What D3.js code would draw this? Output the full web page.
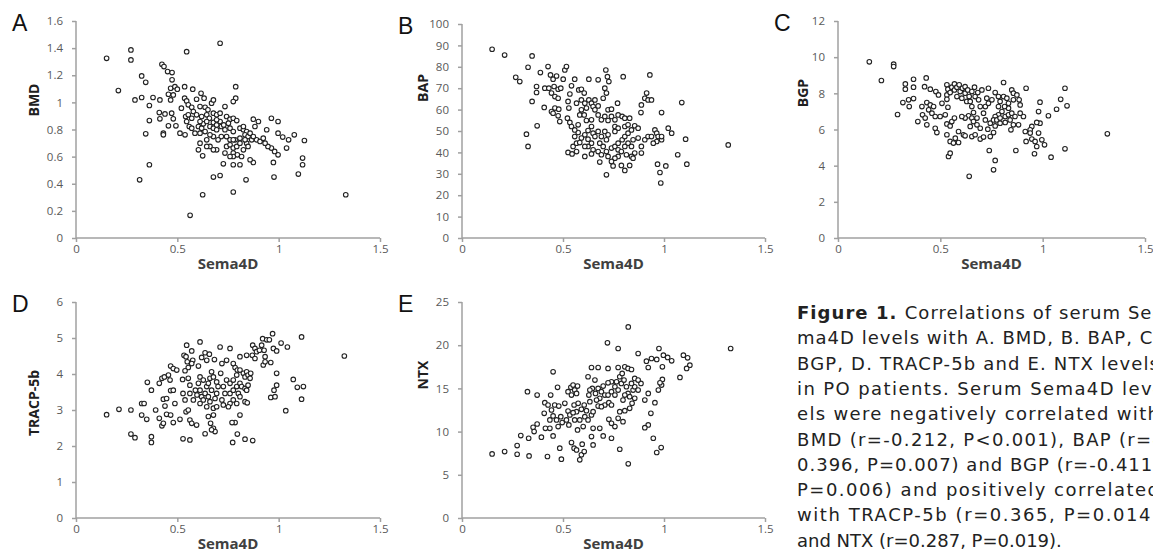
<!DOCTYPE html>
<html>
<head>
<meta charset="utf-8">
<script src="https://cdn.jsdelivr.net/npm/d3@7"></script>
<style>
  body { margin: 0; background: #fff; }
  svg { display: block; }
  .tick text { fill: #595959; font-family: "Open Sans", sans-serif; font-size: 11.5px; }
  .axis path, .axis line { stroke: #a0a0a0; stroke-width: 1.5; }
</style>
</head>
<body>
<svg id="fig" width="1153" height="552"></svg>
<script>

// x values on every panel: serum Sema4D
var sema4dTicks = [0, 0.5, 1, 1.5];

// A. BMD
var bmdPts = [[0.151,1.325],[0.271,1.387],[0.271,1.313],[0.209,1.087],[0.291,1.018],[0.324,1.195],[0.344,1.148],[0.324,1.036],[0.38,1.036],[0.362,0.977],[0.362,0.866],[0.344,0.768],[0.314,0.429],[0.362,0.54],[0.424,1.281],[0.434,1.264],[0.452,1.227],[0.474,1.22],[0.474,1.166],[0.467,1.104],[0.488,1.116],[0.5,1.097],[0.536,1.116],[0.576,1.097],[0.456,1.06],[0.48,1.055],[0.414,1.018],[0.467,1.018],[0.411,0.925],[0.439,0.915],[0.414,0.879],[0.472,0.92],[0.456,0.827],[0.48,0.879],[0.493,0.827],[0.431,0.773],[0.431,0.761],[0.513,0.773],[0.538,0.761],[0.52,0.957],[0.536,1.031],[0.546,1.011],[0.554,0.982],[0.541,0.896],[0.554,0.908],[0.571,0.964],[0.571,0.883],[0.559,0.822],[0.571,0.81],[0.595,1.023],[0.612,0.969],[0.617,1.067],[0.632,1.031],[0.637,0.964],[0.62,0.896],[0.645,0.908],[0.669,0.994],[0.678,1.018],[0.658,0.883],[0.678,0.92],[0.694,0.908],[0.711,0.92],[0.735,0.969],[0.743,0.896],[0.76,0.876],[0.776,0.883],[0.793,0.866],[0.711,1.436],[0.546,1.374],[0.788,1.116],[0.788,1.031],[0.776,1.006],[0.604,0.822],[0.62,0.81],[0.637,0.785],[0.661,0.822],[0.678,0.81],[0.694,0.798],[0.717,0.822],[0.735,0.798],[0.76,0.81],[0.776,0.785],[0.809,0.81],[0.826,0.798],[0.842,0.785],[0.834,0.761],[0.849,0.748],[0.867,0.724],[0.891,0.724],[0.908,0.712],[0.924,0.736],[0.941,0.798],[0.883,0.822],[0.875,0.876],[0.9,0.859],[0.964,0.883],[0.997,0.859],[0.997,0.773],[1.02,0.744],[1.049,0.724],[1.077,0.761],[1.127,0.719],[1.039,0.663],[0.997,0.613],[0.98,0.638],[0.964,0.663],[0.947,0.675],[1.118,0.589],[1.118,0.54],[1.097,0.471],[0.977,0.449],[0.974,0.557],[0.875,0.557],[0.859,0.577],[0.809,0.54],[0.776,0.54],[0.727,0.547],[0.711,0.461],[0.678,0.449],[0.839,0.429],[0.776,0.339],[0.625,0.319],[0.563,0.167],[1.331,0.319],[0.604,0.65],[0.625,0.606],[0.612,0.699],[0.645,0.724],[0.661,0.675],[0.694,0.65],[0.678,0.65],[0.645,0.675],[0.743,0.675],[0.76,0.687],[0.776,0.663],[0.793,0.675],[0.776,0.626],[0.796,0.613],[0.817,0.601],[0.776,0.601],[0.76,0.601],[0.735,0.626],[0.826,0.65],[0.842,0.699],[0.809,0.699],[0.809,0.736],[0.834,0.724],[0.785,0.724],[0.76,0.724],[0.743,0.748],[0.717,0.748],[0.701,0.724],[0.678,0.748],[0.661,0.761],[0.612,0.773],[0.587,0.773],[0.628,0.842],[0.678,0.852],[0.694,0.834],[0.711,0.859],[0.729,0.834],[0.752,0.847],[0.826,0.822],[0.859,0.773],[0.875,0.748],[0.546,0.859],[0.579,0.932],[0.595,0.908],[0.651,0.945],[0.612,0.859],[0.645,0.859],[0.694,0.871],[0.776,0.724],[0.849,0.675],[0.933,0.699]];

// B. BAP
var bapPts = [[0.149,88.2],[0.211,85.5],[0.347,85.1],[0.266,75.1],[0.286,73.1],[0.327,79.8],[0.347,63.8],[0.319,48.5],[0.327,42.8],[0.372,52.4],[0.369,70.8],[0.369,68.0],[0.388,77.3],[0.407,61.0],[0.426,80.1],[0.41,70.0],[0.43,70.0],[0.438,76.2],[0.451,74.2],[0.468,75.7],[0.456,70.8],[0.476,69.5],[0.443,67.7],[0.46,66.1],[0.476,65.3],[0.501,74.2],[0.489,70.0],[0.443,59.1],[0.46,60.7],[0.451,58.3],[0.476,57.1],[0.484,54.4],[0.479,60.2],[0.509,78.5],[0.517,80.1],[0.558,74.2],[0.542,71.1],[0.534,67.3],[0.525,63.8],[0.529,60.7],[0.522,56.0],[0.534,54.0],[0.542,52.1],[0.525,40.0],[0.545,39.3],[0.567,40.4],[0.55,42.8],[0.567,44.3],[0.558,47.4],[0.575,49.3],[0.558,50.5],[0.575,52.9],[0.567,63.0],[0.578,69.2],[0.591,69.5],[0.605,67.7],[0.591,64.5],[0.608,63.0],[0.616,60.7],[0.591,59.9],[0.583,57.5],[0.605,57.5],[0.628,64.5],[0.641,63.0],[0.658,64.5],[0.649,61.4],[0.674,73.9],[0.628,74.2],[0.712,78.5],[0.72,75.4],[0.727,73.1],[0.798,75.4],[0.93,76.2],[1.088,63.3],[0.988,58.6],[0.707,70.0],[0.715,67.7],[0.699,65.3],[0.674,61.7],[0.658,59.9],[0.674,57.5],[0.69,55.2],[0.707,56.8],[0.723,59.9],[0.74,60.2],[0.723,54.9],[0.74,56.8],[0.757,55.2],[0.77,63.0],[0.773,57.5],[0.793,56.8],[0.806,56.0],[0.83,56.0],[0.757,52.1],[0.773,51.3],[0.757,49.8],[0.641,52.1],[0.624,50.2],[0.649,49.0],[0.674,49.8],[0.608,48.2],[0.591,46.7],[0.624,46.2],[0.658,47.4],[0.69,47.4],[0.707,49.8],[0.723,48.2],[0.641,44.3],[0.624,42.8],[0.649,41.2],[0.682,44.3],[0.699,42.8],[0.715,45.9],[0.674,40.4],[0.641,39.3],[0.69,38.9],[0.715,40.4],[0.74,42.0],[0.757,42.8],[0.773,41.2],[0.773,44.3],[0.793,45.9],[0.806,47.4],[0.822,49.0],[0.839,50.5],[0.855,52.4],[0.872,51.3],[0.872,46.7],[0.847,45.9],[0.822,44.3],[0.806,42.8],[0.839,42.8],[0.855,39.7],[0.839,38.1],[0.814,38.9],[0.789,40.4],[0.773,38.1],[0.757,37.3],[0.74,35.8],[0.723,38.1],[0.682,35.5],[0.748,33.7],[0.715,29.5],[0.789,33.9],[0.806,31.6],[0.83,33.9],[0.847,37.3],[0.888,39.7],[0.888,42.8],[0.905,45.9],[0.921,47.4],[0.905,65.3],[0.914,67.7],[0.921,64.5],[0.888,62.2],[0.886,58.6],[0.938,64.5],[0.938,47.4],[0.955,50.5],[0.964,49.0],[0.971,47.4],[0.988,45.9],[0.964,45.1],[0.947,44.3],[0.988,47.4],[1.021,51.3],[1.038,49.0],[1.107,46.2],[1.068,38.9],[1.113,34.5],[0.968,34.5],[0.98,30.6],[1.009,33.7],[0.984,25.7],[1.318,43.5],[0.616,54.9],[0.641,55.2],[0.806,52.1],[0.822,52.9],[0.608,42.8],[0.608,38.1],[0.583,44.6]];

// C. BGP
var bgpPts = [[0.153,9.74],[0.272,9.61],[0.272,9.48],[0.212,8.71],[0.291,6.83],[0.329,8.52],[0.329,8.23],[0.317,7.49],[0.345,7.64],[0.348,7.27],[0.369,8.78],[0.369,8.34],[0.369,7.71],[0.39,6.44],[0.41,7.27],[0.413,6.81],[0.423,8.37],[0.431,8.85],[0.434,7.49],[0.451,8.23],[0.443,7.09],[0.426,6.63],[0.434,6.26],[0.451,7.36],[0.459,6.90],[0.467,7.27],[0.475,6.72],[0.478,8.10],[0.491,7.91],[0.499,6.72],[0.475,6.07],[0.483,5.83],[0.508,7.45],[0.524,6.81],[0.532,6.31],[0.532,5.71],[0.54,4.51],[0.548,4.69],[0.548,5.34],[0.564,5.25],[0.548,6.20],[0.556,6.44],[0.569,6.63],[0.537,7.23],[0.532,8.47],[0.537,8.23],[0.532,7.91],[0.532,7.67],[0.548,8.04],[0.556,8.34],[0.569,8.52],[0.569,8.19],[0.581,7.82],[0.581,8.34],[0.592,8.47],[0.597,8.10],[0.605,7.73],[0.608,8.28],[0.621,8.37],[0.621,8.01],[0.634,8.19],[0.641,7.82],[0.629,7.55],[0.646,7.55],[0.654,8.10],[0.667,8.34],[0.654,7.27],[0.67,7.82],[0.683,8.04],[0.687,7.64],[0.695,7.27],[0.662,6.94],[0.638,6.76],[0.621,6.63],[0.605,6.72],[0.613,5.71],[0.621,5.65],[0.589,5.89],[0.573,5.52],[0.589,5.28],[0.654,6.63],[0.662,6.44],[0.679,6.63],[0.679,6.26],[0.695,6.07],[0.646,6.17],[0.654,5.61],[0.67,5.71],[0.695,5.47],[0.711,5.58],[0.732,6.02],[0.744,6.35],[0.72,6.53],[0.711,6.90],[0.72,7.27],[0.735,7.45],[0.727,7.73],[0.752,7.64],[0.735,8.28],[0.703,8.19],[0.641,3.41],[0.739,4.84],[0.768,4.29],[0.76,3.77],[0.869,4.84],[0.96,4.66],[1.041,4.47],[1.109,4.93],[0.809,8.60],[0.919,8.28],[1.109,8.28],[1.119,7.31],[1.088,7.67],[1.068,7.12],[0.987,7.51],[1.028,6.76],[0.98,6.99],[0.987,6.35],[0.971,6.39],[0.947,6.17],[0.939,5.98],[0.915,5.89],[0.906,6.72],[0.939,5.80],[0.919,5.34],[0.947,5.47],[0.963,5.34],[0.971,5.06],[0.98,5.80],[0.996,5.43],[1.009,5.15],[1.316,5.76],[0.768,8.04],[0.784,7.82],[0.792,7.55],[0.809,7.82],[0.825,7.73],[0.833,7.45],[0.849,8.19],[0.857,8.01],[0.874,7.91],[0.885,7.64],[0.89,7.36],[0.857,7.64],[0.833,7.18],[0.814,7.27],[0.784,7.27],[0.801,6.99],[0.784,6.81],[0.768,6.72],[0.76,6.53],[0.776,6.53],[0.792,6.63],[0.817,6.72],[0.833,6.81],[0.849,6.90],[0.865,6.72],[0.841,6.53],[0.817,6.39],[0.857,6.26],[0.845,5.98],[0.792,6.35],[0.768,6.20],[0.76,5.83],[0.744,5.61],[0.882,6.26],[0.89,6.90]];

// D. TRACP-5b
var tracpPts = [[0.151,2.87],[0.212,3.02],[0.271,3.00],[0.271,2.33],[0.291,2.23],[0.324,3.18],[0.336,3.18],[0.324,2.86],[0.349,2.74],[0.352,3.77],[0.372,3.55],[0.372,2.26],[0.372,2.10],[0.393,3.00],[0.411,3.74],[0.424,3.88],[0.411,2.77],[0.424,2.56],[0.431,2.63],[0.436,3.92],[0.431,3.30],[0.439,3.11],[0.447,2.88],[0.456,3.97],[0.464,3.83],[0.467,4.22],[0.48,4.15],[0.497,4.11],[0.467,3.54],[0.48,3.55],[0.447,3.32],[0.467,2.86],[0.48,2.65],[0.488,3.18],[0.513,2.74],[0.526,3.85],[0.533,4.52],[0.546,4.80],[0.543,4.48],[0.549,4.34],[0.554,4.18],[0.538,4.09],[0.528,3.46],[0.538,3.28],[0.543,2.95],[0.528,2.20],[0.562,2.17],[0.554,3.88],[0.562,3.69],[0.562,3.46],[0.571,4.64],[0.576,4.38],[0.571,4.29],[0.562,2.72],[0.571,2.63],[0.554,3.00],[0.579,3.28],[0.589,3.55],[0.597,3.42],[0.595,2.58],[0.604,4.22],[0.62,4.46],[0.637,4.59],[0.658,4.55],[0.645,4.38],[0.612,4.89],[0.683,4.40],[0.612,3.55],[0.62,3.37],[0.628,3.28],[0.612,3.18],[0.637,3.46],[0.645,3.65],[0.653,3.74],[0.661,3.88],[0.678,3.92],[0.669,3.55],[0.653,3.37],[0.661,3.23],[0.645,3.09],[0.678,3.05],[0.686,3.32],[0.694,3.46],[0.701,3.65],[0.694,3.78],[0.714,4.02],[0.669,4.06],[0.72,4.29],[0.743,4.38],[0.76,4.71],[0.711,4.75],[0.727,3.65],[0.735,3.46],[0.72,3.28],[0.727,3.14],[0.694,3.09],[0.678,2.86],[0.653,2.82],[0.664,2.63],[0.678,2.49],[0.686,2.40],[0.669,2.45],[0.637,2.34],[0.743,3.83],[0.76,3.74],[0.776,3.83],[0.793,3.97],[0.785,4.18],[0.796,4.11],[0.776,4.29],[0.809,4.48],[0.809,4.11],[0.826,4.02],[0.842,4.06],[0.834,3.92],[0.849,3.97],[0.859,3.88],[0.862,4.02],[0.842,4.52],[0.87,4.52],[0.76,3.46],[0.776,3.55],[0.793,3.65],[0.809,3.74],[0.817,3.65],[0.834,3.60],[0.849,3.69],[0.801,3.46],[0.776,3.28],[0.76,3.18],[0.752,3.09],[0.809,3.37],[0.793,3.18],[0.842,3.55],[0.834,3.23],[0.845,3.20],[0.809,2.86],[0.785,2.65],[0.77,2.65],[0.773,2.10],[0.796,2.33],[0.834,2.19],[0.872,2.15],[0.872,4.80],[0.883,4.71],[0.891,4.62],[0.883,4.43],[0.905,4.66],[0.916,4.80],[0.928,4.66],[0.933,4.48],[0.921,4.98],[0.941,4.95],[0.954,4.95],[0.97,5.12],[0.974,4.71],[0.99,4.64],[1.012,4.86],[1.043,4.75],[1.113,5.03],[0.924,4.25],[0.933,4.34],[0.961,4.32],[0.961,3.35],[0.977,3.55],[0.99,4.02],[0.99,3.69],[0.982,3.37],[1.072,3.85],[1.092,3.63],[1.122,3.65],[1.113,3.30],[1.035,2.98],[1.324,4.50],[0.612,3.92],[0.628,3.83],[0.604,3.74]];

// E. NTX
var ntxPts = [[0.149,7.42],[0.211,7.69],[0.273,8.38],[0.273,7.38],[0.332,7.19],[0.291,9.54],[0.33,9.23],[0.324,14.62],[0.352,10.5],[0.357,10.0],[0.372,10.88],[0.372,14.23],[0.393,9.35],[0.41,13.35],[0.413,10.38],[0.423,7.12],[0.407,12.12],[0.426,13.08],[0.435,11.35],[0.439,14.23],[0.443,12.5],[0.435,10.38],[0.451,9.5],[0.451,16.92],[0.451,11.81],[0.459,13.08],[0.468,11.35],[0.473,15.12],[0.476,10.58],[0.479,12.96],[0.484,8.08],[0.492,6.81],[0.489,11.73],[0.496,11.04],[0.509,13.27],[0.517,11.35],[0.525,12.38],[0.534,11.92],[0.529,10.77],[0.542,8.73],[0.555,8.08],[0.567,7.88],[0.525,14.62],[0.539,15.12],[0.542,14.23],[0.55,15.38],[0.558,14.81],[0.572,15.27],[0.567,14.42],[0.555,13.08],[0.567,12.31],[0.55,12.19],[0.558,11.35],[0.572,10.19],[0.583,6.73],[0.591,7.31],[0.605,7.69],[0.595,8.54],[0.575,13.27],[0.591,12.58],[0.605,13.08],[0.616,12.42],[0.608,11.73],[0.624,11.35],[0.641,11.92],[0.649,12.31],[0.633,13.46],[0.628,14.23],[0.624,16.35],[0.641,17.42],[0.674,17.42],[0.72,20.27],[0.773,19.62],[0.823,22.12],[0.773,17.42],[0.723,17.31],[0.658,15.96],[0.645,15.0],[0.633,14.81],[0.661,14.42],[0.674,15.0],[0.69,14.62],[0.699,15.27],[0.707,14.23],[0.682,13.85],[0.666,13.65],[0.674,12.96],[0.707,13.08],[0.727,13.35],[0.74,13.08],[0.723,14.23],[0.74,14.62],[0.757,15.19],[0.765,15.77],[0.74,15.77],[0.723,15.65],[0.757,14.23],[0.773,14.81],[0.789,15.58],[0.781,16.35],[0.793,16.73],[0.806,17.5],[0.822,17.31],[0.839,17.19],[0.802,15.96],[0.814,15.19],[0.822,14.42],[0.806,14.23],[0.797,13.65],[0.83,14.04],[0.847,14.81],[0.855,15.19],[0.872,14.81],[0.886,15.58],[0.855,13.85],[0.842,13.27],[0.83,12.69],[0.806,12.42],[0.781,12.31],[0.757,10.58],[0.797,11.15],[0.773,11.54],[0.727,11.42],[0.74,10.96],[0.74,9.23],[0.699,9.5],[0.682,10.38],[0.649,10.38],[0.641,9.42],[0.649,8.46],[0.781,7.96],[0.823,6.27],[0.872,19.04],[0.913,18.15],[0.922,17.42],[0.938,18.46],[0.964,18.35],[0.975,19.62],[0.997,18.85],[1.018,18.58],[1.038,18.19],[1.096,18.85],[1.117,18.54],[1.128,17.69],[1.112,17.31],[1.079,16.27],[0.992,17.5],[0.992,16.04],[0.988,15.38],[0.972,14.81],[0.98,15.65],[0.955,13.35],[0.922,14.42],[0.905,13.65],[0.935,12.12],[0.922,10.77],[0.905,10.46],[0.947,9.23],[0.964,7.58],[0.986,8.15],[1.33,19.62],[0.855,16.15],[0.839,15.58],[0.872,15.96],[0.69,12.88],[0.583,11.35],[0.6,10.58]];

var bmdTicks = [0, 0.2, 0.4, 0.6, 0.8, 1, 1.2, 1.4, 1.6];
var bapTicks = [0, 10, 20, 30, 40, 50, 60, 70, 80, 90, 100];
var bgpTicks = [0, 2, 4, 6, 8, 10, 12];
var tracpTicks = [0, 1, 2, 3, 4, 5, 6];
var ntxTicks = [0, 5, 10, 15, 20, 25];

var captionLines = [
  "Correlations of serum Se-",
  "ma4D levels with A. BMD, B. BAP, C.",
  "BGP, D. TRACP-5b and E. NTX levels",
  "in PO patients. Serum Sema4D lev-",
  "els were negatively correlated with",
  "BMD (r=-0.212, P<0.001), BAP (r=-",
  "0.396, P=0.007) and BGP (r=-0.411,",
  "P=0.006) and positively correlated",
  "with TRACP-5b (r=0.365, P=0.014)",
  "and NTX (r=0.287, P=0.019)."
];

// panel boxes (plot area in px), tx/ty = y title centre
var panels = [
  { letter: "A", title: "BMD",      pts: bmdPts,   ticks: bmdTicks,   x0: 76,  x1: 380,  y0: 238, y1: 21,  tx: 34,  ty: 100 },
  { letter: "B", title: "BAP",      pts: bapPts,   ticks: bapTicks,   x0: 462, x1: 765,  y0: 238, y1: 24,  tx: 423, ty: 88 },
  { letter: "C", title: "BGP",      pts: bgpPts,   ticks: bgpTicks,   x0: 838, x1: 1145, y0: 238, y1: 21,  tx: 803, ty: 93 },
  { letter: "D", title: "TRACP-5b", pts: tracpPts, ticks: tracpTicks, x0: 76,  x1: 380,  y0: 518, y1: 302, tx: 34,  ty: 403 },
  { letter: "E", title: "NTX",      pts: ntxPts,   ticks: ntxTicks,   x0: 462, x1: 765,  y0: 518, y1: 302, tx: 423, ty: 375 }
];

var svg = d3.select("#fig");

panels.forEach(function(p) {
  var x = d3.scaleLinear().domain([0, 1.5]).range([p.x0, p.x1]);
  var y = d3.scaleLinear().domain([0, d3.max(p.ticks)]).range([p.y0, p.y1]);
  var g = svg.append("g");

  g.append("g")
      .attr("class", "axis")
      .attr("transform", "translate(0," + p.y0 + ")")
      .call(d3.axisBottom(x).tickValues(sema4dTicks).tickSize(4).tickPadding(3)
          .tickFormat(function(d) { return String(d); }))
      .select(".domain").attr("d", "M" + p.x0 + ",0H" + p.x1);

  g.append("g")
      .attr("class", "axis")
      .attr("transform", "translate(" + p.x0 + ",0)")
      .call(d3.axisLeft(y).tickValues(p.ticks).tickSize(4).tickPadding(9)
          .tickFormat(function(d) { return String(+d.toFixed(1)); }))
      .select(".domain").attr("d", "M0," + p.y0 + "V" + p.y1);

  g.selectAll("circle")
      .data(p.pts)
      .enter().append("circle")
      .attr("cx", function(d) { return x(d[0]); })
      .attr("cy", function(d) { return y(d[1]); })
      .attr("r", 2.3)
      .attr("fill", "#fff")
      .attr("stroke", "#222")
      .attr("stroke-width", 1.1);

  g.append("text")
      .attr("x", x(0.75))
      .attr("y", p.y0 + 31)
      .attr("text-anchor", "middle")
      .style("font-family", "'Open Sans', sans-serif")
      .style("font-weight", "bold")
      .style("font-size", "15px")
      .style("fill", "#404040")
      .text("Sema4D");

  g.append("text")
      .attr("transform", "translate(" + (p.tx + 5) + "," + p.ty + ") rotate(-90)")
      .attr("text-anchor", "middle")
      .style("font-family", "'Open Sans', sans-serif")
      .style("font-weight", "bold")
      .style("font-size", "14px")
      .style("fill", "#202020")
      .text(p.title);

  g.append("text")
      .attr("x", p.x0 - 64)
      .attr("y", p.y1 + 10)
      .style("font-family", "'Liberation Sans', Arial, sans-serif")
      .style("font-size", "23px")
      .style("fill", "#111")
      .text(p.letter);
});

// caption, justified lines (runs past the right edge, as in the source)
var cap = svg.append("g")
    .style("font-family", "'DejaVu Sans', sans-serif")
    .style("font-size", "18px")
    .style("fill", "#222");

captionLines.forEach(function(line, i) {
  var t = cap.append("text")
      .attr("x", 797)
      .attr("y", 319 + i * 25.3);
  if (i < captionLines.length - 1) {
    t.attr("textLength", 362).attr("lengthAdjust", "spacing");
  }
  if (i === 0) {
    t.append("tspan").style("font-weight", "bold").text("Figure 1. ");
  }
  t.append("tspan").text(line);
});

</script>
</body>
</html>
